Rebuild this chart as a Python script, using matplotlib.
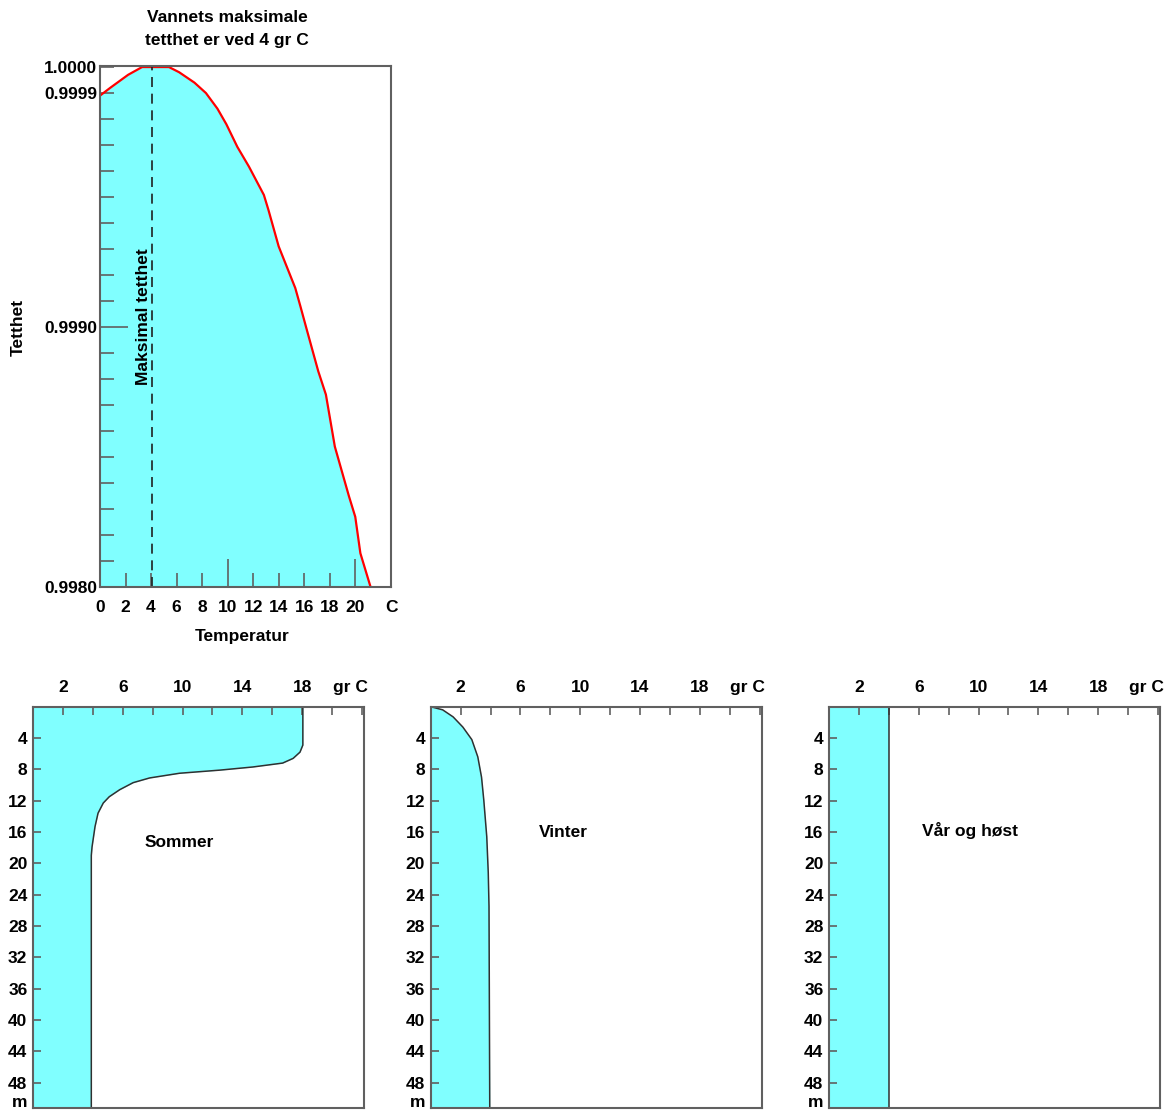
import matplotlib
matplotlib.use('Agg')
import matplotlib.pyplot as plt
import numpy as np

plt.rcParams['font.family'] = ['Liberation Sans', 'DejaVu Sans']
plt.rcParams['font.weight'] = 'bold'
plt.rcParams['font.size'] = 12.5

# density of water vs temperature
temp_c = [0, 0.8, 2.2, 3.3, 4.1, 5.4, 6.2, 7.4, 8.3, 9.2, 9.9, 10.76, 11.67, 12.84,
          13.2, 14.0, 15.3, 15.7, 16.2, 17.1, 17.7, 18.4, 19.5, 20.0, 20.4, 21.2]
density = [0.99989, 0.99992, 0.99997, 1.0, 1.0, 1.0, 0.99998, 0.99994, 0.9999,
           0.99984, 0.99978, 0.999693, 0.999617, 0.999508, 0.99945, 0.99931, 0.99915,
           0.99908, 0.99899, 0.99883, 0.99874, 0.99854, 0.99835, 0.99827, 0.99813, 0.9980]
max_density_temp = 4.1

# temperature profiles vs depth
summer_depth = [0, 4.9, 5.8, 6.6, 7.2, 7.7, 8.1, 8.5, 9.1, 9.7, 10.6, 11.5, 12.3,
                13.6, 15.3, 17.9, 19, 51.3]
summer_temp = [18.05, 18.05, 17.86, 17.4, 16.7, 14.7, 12.5, 9.8, 7.8, 6.7, 5.8,
               5.1, 4.7, 4.35, 4.15, 3.95, 3.9, 3.9]
winter_depth = [0, 0.4, 1.3, 2.6, 4.2, 6.4, 9, 11.9, 16.6, 21.2, 25.5, 51.3]
winter_temp = [0, 0.8, 1.5, 2.15, 2.75, 3.15, 3.4, 3.55, 3.75, 3.85, 3.9, 3.95]
spring_depth = [0, 51.3]
spring_temp = [4.0, 4.0]

profiles = [
    (summer_depth, summer_temp, 'Sommer', (9.8, 17.4)),
    (winter_depth, winter_temp, 'Vinter', (8.9, 16.1)),
    (spring_depth, spring_temp, 'Vår og høst', (9.4, 15.8)),
]

fill_col = '#80ffff'
spine_col = '#606060'
W, H = 1168, 1110

fig = plt.figure(figsize=(W / 100, H / 100), dpi=100)

# ---- top density chart
ax = fig.add_axes([100 / W, 1 - 587 / H, 291 / W, 521 / H])
ax.fill_between(temp_c, density, 0.998, color=fill_col, lw=0)
ax.plot(temp_c, density, color='red', lw=1.6)
ax.axvline(max_density_temp, color='#202020', lw=1.2, dashes=(6, 4))
ax.set_xlim(0, 22.65)
ax.set_ylim(0.998, 1.000004)
ax.set_xticks(list(range(0, 21, 2)) + [22.8])
ax.set_xticklabels([str(v) for v in range(0, 21, 2)] + ['C'])
ax.set_yticks([0.998, 0.999, 0.9999, 1.0])
ax.set_yticklabels(['0.9980', '0.9990', '0.9999', '1.0000'])
ax.set_yticks(np.arange(0.998, 1.00001, 0.0001), minor=True)
ax.tick_params(direction='in', length=10, width=1.2, color=spine_col)
ax.tick_params(axis='y', which='minor', direction='in', length=10, width=1.2, color=spine_col)
ax.tick_params(axis='y', pad=2)
ax.tick_params(axis='x', pad=9)
ax.get_xticklines()[-2].set_visible(False)
for t in ax.xaxis.get_major_ticks():
    if t.get_loc() in (10, 20):
        t.tick1line.set_markersize(20)
ax.yaxis.get_major_ticks()[1].tick1line.set_markersize(20)
for s in ax.spines.values():
    s.set_color(spine_col)
    s.set_linewidth(1.5)
ax.text(3.4, 0.99904, 'Maksimal tetthet', rotation=90, ha='center', va='center')
fig.text(227 / W, 1 - 18 / H, 'Vannets maksimale', ha='center', va='center')
fig.text(227 / W, 1 - 40 / H, 'tetthet er ved 4 gr C', ha='center', va='center')
fig.text(242 / W, 1 - 636 / H, 'Temperatur', ha='center', va='center')
fig.text(18 / W, 1 - 327 / H, 'Tetthet', rotation=90, ha='center', va='center')

# ---- three depth profiles
lefts = [33, 430.7, 829]
for left, (depth, temp, name, pos) in zip(lefts, profiles):
    a = fig.add_axes([left / W, 1 - 1108 / H, 331 / W, 401.3 / H])
    a.fill_betweenx(depth, 0, temp, color=fill_col, lw=0)
    a.plot(temp, depth, color='#303030', lw=1.1)
    a.set_xlim(0, 22.14)
    a.set_ylim(51.25, 0)
    a.xaxis.tick_top()
    xt = list(range(2, 23, 2)) + [21.2]
    a.set_xticks(xt)
    a.set_xticklabels([str(v) if v in (2, 6, 10, 14, 18) else '' for v in range(2, 23, 2)] + ['gr C'])
    yt = list(range(4, 49, 4)) + [50.3]
    a.set_yticks(yt)
    a.set_yticklabels([str(v) for v in range(4, 49, 4)] + ['m'])
    a.tick_params(direction='in', length=6, width=1.2, color=spine_col)
    a.tick_params(axis='x', pad=8.5)
    a.tick_params(axis='y', pad=4)
    a.xaxis.get_major_ticks()[-1].tick2line.set_visible(False)
    a.yaxis.get_major_ticks()[-1].tick1line.set_visible(False)
    for s in a.spines.values():
        s.set_color(spine_col)
        s.set_linewidth(1.5)
    a.text(pos[0], pos[1], name, ha='center', va='center')

fig.savefig('out.png', dpi=100, facecolor='white')
